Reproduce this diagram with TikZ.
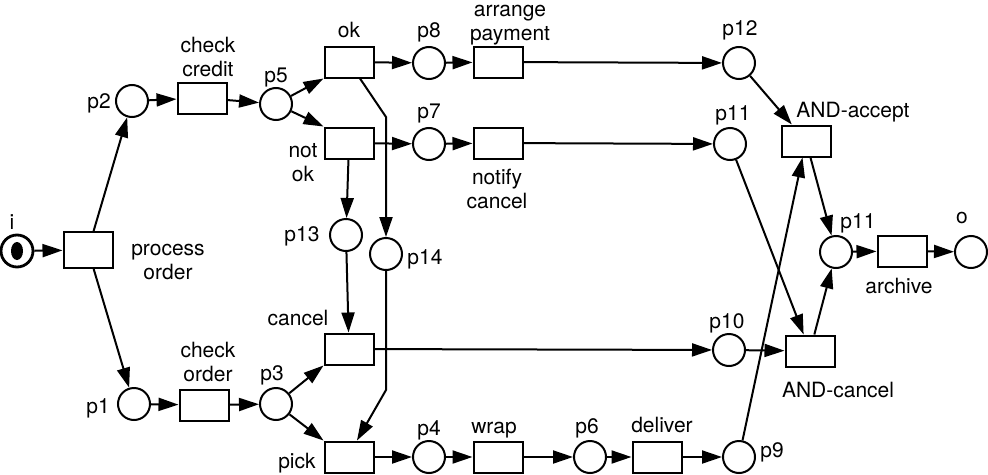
\documentclass[tikz,border=0pt]{standalone}
\usepackage{fontspec}
\setmainfont{TeX Gyre Heros}
\usetikzlibrary{arrows.meta}
\tikzset{
    petri-place/.style = {draw, circle, line width=2pt, minimum size=32pt, inner sep=0pt},
    petri-transition/.style = {draw, rectangle, line width=2pt, minimum width=49pt, minimum height=31pt, inner sep=0pt},
    petri-arc/.style = {line width=2pt, -{Triangle[length=20pt,width=13pt]}},
    petri-label/.style = {font=\fontsize{21}{24}\selectfont, align=center, inner sep=0pt},
}

\begin{document}
\begin{tikzpicture}[x=1pt, y=-1pt]
\useasboundingbox (0,0) rectangle (988,474);

% places and transitions
\node[petri-place, line width=2.8pt] (i) at (17,251) {};
\fill (i) ellipse (6 and 9);
\node[petri-transition, minimum height=36pt] (process) at (88,250) {};
\node[petri-place] (p2) at (132,101) {};
\node[petri-transition] (checkcredit) at (202,98) {};
\node[petri-place] (p5) at (276,104) {};
\node[petri-transition] (ok) at (349,62) {};
\node[petri-transition] (notok) at (349,143) {};
\node[petri-place] (p8) at (429,63) {};
\node[petri-transition] (payment) at (498,62) {};
\node[petri-place] (p7) at (429,144) {};
\node[petri-transition] (notify) at (498,143) {};
\node[petri-place] (p12) at (739,63) {};
\node[petri-place] (p11a) at (730,144) {};
\node[petri-transition] (andaccept) at (806,141) {};
\node[petri-place] (p13) at (346,235) {};
\node[petri-place] (p14) at (386,254) {};
\node[petri-place] (p11b) at (836,252) {};
\node[petri-transition] (archive) at (902,251) {};
\node[petri-place] (o) at (971,252) {};
\node[petri-place] (p1) at (134,404) {};
\node[petri-transition] (checkorder) at (204,405) {};
\node[petri-place] (p3) at (276,404) {};
\node[petri-transition] (cancel) at (349,349) {};
\node[petri-place] (p10) at (729,350) {};
\node[petri-transition] (andcancel) at (810,351) {};
\node[petri-transition] (pick) at (349,457) {};
\node[petri-place] (p4) at (429,457) {};
\node[petri-transition] (wrap) at (498,457) {};
\node[petri-place] (p6) at (590,457) {};
\node[petri-transition] (deliver) at (657,457) {};
\node[petri-place] (p9) at (739,457) {};

% labels
\node[petri-label] (lbl-i) at (12,222) {i};
\node[petri-label] (lbl-process) at (168,262) {process\\order};
\node[petri-label] (lbl-p2) at (99,103) {p2};
\node[petri-label] (lbl-checkcredit) at (208,57) {check\\credit};
\node[petri-label] (lbl-p5) at (276,77) {p5};
\node[petri-label] (lbl-ok) at (349,30) {ok};
\node[petri-label] (lbl-notok) at (303,163) {not\\ok};
\node[petri-label] (lbl-p8) at (429,32) {p8};
\node[petri-label] (lbl-payment) at (510,25) {arrange\\payment};
\node[petri-label] (lbl-p7) at (429,113) {p7};
\node[petri-label] (lbl-notify) at (497,189) {notify\\cancel};
\node[petri-label] (lbl-p12) at (740,30) {p12};
\node[petri-label] (lbl-p11a) at (733,115) {p11};
\node[petri-label] (lbl-andaccept) at (853,112) {AND-accept};
\node[petri-label] (lbl-p13) at (302,236) {p13};
\node[petri-label] (lbl-p14) at (425,259) {p14};
\node[petri-label] (lbl-p11b) at (858,223) {p11};
\node[petri-label] (lbl-o) at (962,218) {o};
\node[petri-label] (lbl-archive) at (899,286) {archive};
\node[petri-label] (lbl-cancel) at (298,318) {cancel};
\node[petri-label] (lbl-p10) at (727,323) {p10};
\node[petri-label] (lbl-andcancel) at (838,390) {AND-cancel};
\node[petri-label] (lbl-checkorder) at (208,362) {check\\order};
\node[petri-label] (lbl-p1) at (98,408) {p1};
\node[petri-label] (lbl-p3) at (272,375) {p3};
\node[petri-label] (lbl-pick) at (297,463) {pick};
\node[petri-label] (lbl-p4) at (429,430) {p4};
\node[petri-label] (lbl-wrap) at (494,430) {wrap};
\node[petri-label] (lbl-p6) at (587,428) {p6};
\node[petri-label] (lbl-deliver) at (662,425) {deliver};
\node[petri-label] (lbl-p9) at (772,452) {p9};

% bends
\coordinate (ok-bend) at (386,117);
\coordinate (pick-bend) at (386,390);

% arcs
\draw[petri-arc] (i) -- (process);
\draw[petri-arc] (process) -- (p2);
\draw[petri-arc] (process) -- (p1);
\draw[petri-arc] (p2) -- (checkcredit);
\draw[petri-arc] (checkcredit) -- (p5);
\draw[petri-arc] (p5) -- (ok.south west);
\draw[petri-arc] (p5) -- (notok.north west);
\draw[petri-arc] (ok) -- (p8);
\draw[petri-arc] (p8) -- (payment);
\draw[petri-arc] (payment) -- (p12);
\draw[petri-arc] (notok) -- (p7);
\draw[petri-arc] (p7) -- (notify);
\draw[petri-arc] (notify) -- (p11a);
\draw[petri-arc] (notok) -- (p13);
\draw[petri-arc] ([xshift=11pt]ok.south) -- (ok-bend) -- (p14);
\draw[petri-arc] (p13) -- (cancel);
\draw[petri-arc] (p14) -- (pick-bend) -- ([xshift=8pt]pick.north);
\draw[petri-arc] (p1) -- (checkorder);
\draw[petri-arc] (checkorder) -- (p3);
\draw[petri-arc] (p3) -- (cancel.south west);
\draw[petri-arc] (p3) -- (pick.north west);
\draw[petri-arc] (pick) -- (p4);
\draw[petri-arc] (p4) -- (wrap);
\draw[petri-arc] (wrap) -- (p6);
\draw[petri-arc] (p6) -- (deliver);
\draw[petri-arc] (deliver) -- (p9);
\draw[petri-arc] (cancel) -- (p10);
\draw[petri-arc] (p10) -- (andcancel);
\draw[petri-arc] (p12) -- (andaccept);
\draw[petri-arc] (p11a) -- (andcancel);
\draw[petri-arc] (p9) -- (andaccept);
\draw[petri-arc] (andaccept) -- (p11b);
\draw[petri-arc] (andcancel) -- (p11b);
\draw[petri-arc] (p11b) -- (archive);
\draw[petri-arc] (archive) -- (o);
\end{tikzpicture}
\end{document}
